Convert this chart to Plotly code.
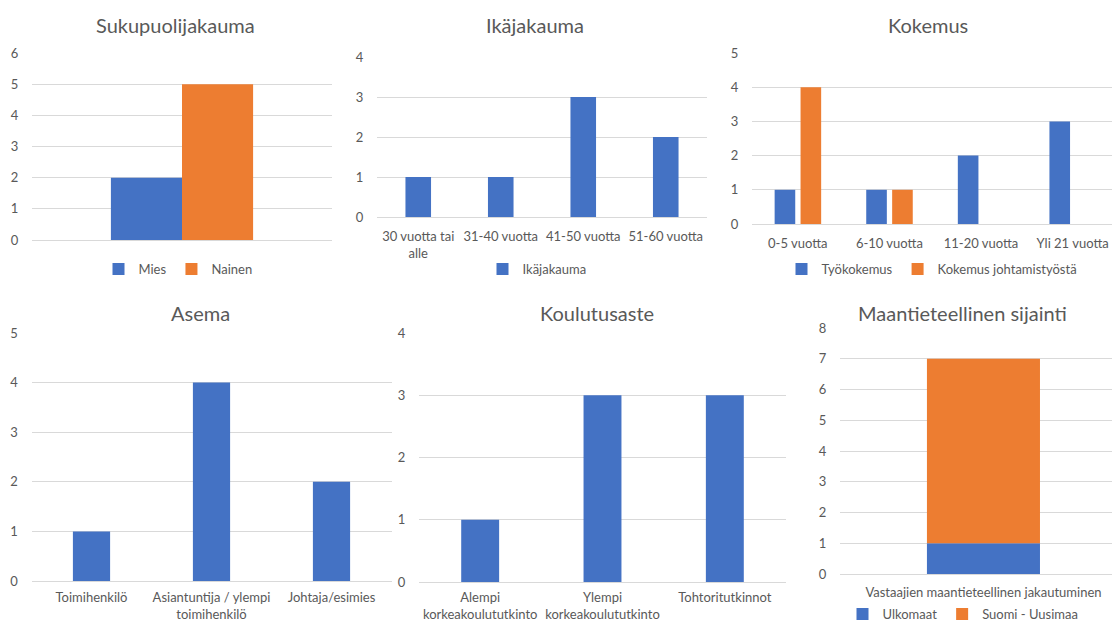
import plotly.graph_objects as go

# ---- data ----
gender_categories = [""]
gender_male = [2]
gender_female = [5]

age_categories = ["30 vuotta tai alle", "31-40 vuotta", "41-50 vuotta", "51-60 vuotta"]
age_tick_labels = ["30 vuotta tai<br>alle", "31-40 vuotta", "41-50 vuotta", "51-60 vuotta"]
age_counts = [1, 1, 3, 2]

experience_categories = ["0-5 vuotta", "6-10 vuotta", "11-20 vuotta", "Yli 21 vuotta"]
work_experience = [1, 1, 2, 3]
management_experience = [4, 1, 0, 0]

position_categories = ["Toimihenkilö", "Asiantuntija / ylempi toimihenkilö", "Johtaja/esimies"]
position_tick_labels = ["Toimihenkilö", "Asiantuntija / ylempi<br>toimihenkilö", "Johtaja/esimies"]
position_counts = [1, 4, 2]

education_categories = ["Alempi korkeakoulututkinto", "Ylempi korkeakoulututkinto", "Tohtoritutkinnot"]
education_tick_labels = ["Alempi<br>korkeakoulututkinto", "Ylempi<br>korkeakoulututkinto", "Tohtoritutkinnot"]
education_counts = [1, 3, 3]

location_categories = ["Vastaajien maantieteellinen jakautuminen"]
location_abroad = [1]
location_uusimaa = [6]

# ---- styling ----
W, H = 1112, 622
BLUE = "#4472C4"
ORANGE = "#ED7D31"
GRID = "#D9D9D9"
TEXT = "#595959"
FONT = "Lato, Carlito, Calibri, sans-serif"
SMALL = 13


def dom_x(left, right):
    return [left / W, right / W]


def dom_y(top, bottom):
    return [1 - bottom / H, 1 - top / H]


fig = go.Figure()

# 1: Sukupuolijakauma (grouped, one category)
fig.add_trace(go.Bar(x=gender_categories, y=gender_male, name="Mies", marker_color=BLUE,
                     width=0.237, offset=-0.237, xaxis="x", yaxis="y", legend="legend"))
fig.add_trace(go.Bar(x=gender_categories, y=gender_female, name="Nainen", marker_color=ORANGE,
                     width=0.237, offset=0.0, xaxis="x", yaxis="y", legend="legend"))

# 2: Ikäjakauma
fig.add_trace(go.Bar(x=age_categories, y=age_counts, name="Ikäjakauma", marker_color=BLUE,
                     width=0.31, offset=-0.155, xaxis="x2", yaxis="y2", legend="legend2"))

# 3: Kokemus (grouped)
fig.add_trace(go.Bar(x=experience_categories, y=work_experience, name="Työkokemus",
                     marker_color=BLUE, width=0.225, offset=-0.253,
                     xaxis="x3", yaxis="y3", legend="legend3"))
fig.add_trace(go.Bar(x=experience_categories, y=management_experience,
                     name="Kokemus johtamistyöstä", marker_color=ORANGE, width=0.225,
                     offset=0.03, xaxis="x3", yaxis="y3", legend="legend3"))

# 4: Asema
fig.add_trace(go.Bar(x=position_categories, y=position_counts, name="Asema", marker_color=BLUE,
                     width=0.31, offset=-0.155, xaxis="x4", yaxis="y4", showlegend=False))

# 5: Koulutusaste
fig.add_trace(go.Bar(x=education_categories, y=education_counts, name="Koulutusaste",
                     marker_color=BLUE, width=0.31, offset=-0.155,
                     xaxis="x5", yaxis="y5", showlegend=False))

# 6: Maantieteellinen sijainti (stacked)
fig.add_trace(go.Bar(x=location_categories, y=location_abroad, name="Ulkomaat",
                     marker_color=BLUE, width=0.394, offset=-0.197,
                     xaxis="x6", yaxis="y6", legend="legend4"))
fig.add_trace(go.Bar(x=location_categories, y=location_uusimaa, base=location_abroad,
                     name="Suomi - Uusimaa", marker_color=ORANGE, width=0.394, offset=-0.197,
                     xaxis="x6", yaxis="y6", legend="legend4"))

fig.update_traces(marker_line_width=0, hoverinfo="x+y")

panels = [
    # (x-left, x-right, y-top, y-bottom, ymax, categories, tick labels, x-range, x ticklen)
    (32, 332, 53, 240, 6, gender_categories, gender_categories, [-0.5, 0.5], 7),
    (377, 707, 57, 217, 4, age_categories, age_tick_labels, [-0.5, 3.5], 7),
    (752, 1112, 53, 224, 5, experience_categories, experience_categories, [-0.5, 3.43], 7),
    (31.5, 391.5, 333, 581, 5, position_categories, position_tick_labels, [-0.5, 2.5], 4),
    (419, 786, 333, 582, 4, education_categories, education_tick_labels, [-0.5, 2.5], 3),
    (840, 1112, 328, 574, 8, location_categories, location_categories, [-0.5, 0.448], 6),
]

layout_axes = {}
for i, (xl, xr, yt, yb, ymax, cats, ticks, xr_range, xtl) in enumerate(panels, start=1):
    sfx = "" if i == 1 else str(i)
    layout_axes["xaxis" + sfx] = dict(
        domain=dom_x(xl, xr), anchor="y" + sfx, type="category",
        categoryorder="array", categoryarray=cats, range=xr_range,
        tickmode="array", tickvals=cats, ticktext=ticks,
        showgrid=False, zeroline=False, showline=False, automargin=False,
        ticks="outside", ticklen=xtl, tickcolor="rgba(0,0,0,0)",
        tickfont=dict(size=SMALL, color=TEXT, family=FONT), tickangle=0,
        fixedrange=True,
    )
    layout_axes["yaxis" + sfx] = dict(
        domain=dom_y(yt, yb), anchor="x" + sfx, range=[0, ymax], dtick=1, tick0=0,
        showgrid=True, gridcolor=GRID, gridwidth=1, automargin=False,
        zeroline=True, zerolinecolor=GRID, zerolinewidth=1, showline=False,
        ticks="outside", ticklen=10, tickcolor="rgba(0,0,0,0)",
        tickfont=dict(size=SMALL, color=TEXT, family=FONT),
        fixedrange=True,
    )

titles = [
    ("Sukupuolijakauma", 175, 25),
    ("Ikäjakauma", 535, 25),
    ("Kokemus", 928, 25),
    ("Asema", 200, 313),
    ("Koulutusaste", 597, 313),
    ("Maantieteellinen sijainti", 962, 313),
]
annotations = [
    dict(text=t, x=x / W, y=1 - y / H, xref="paper", yref="paper",
         xanchor="center", yanchor="middle", showarrow=False,
         font=dict(size=20, color=TEXT, family=FONT))
    for t, x, y in titles
]


def legend_at(cx, cy):
    return dict(orientation="h", x=cx / W, y=1 - cy / H, xanchor="center", yanchor="middle",
                font=dict(size=SMALL, color=TEXT, family=FONT), bgcolor="rgba(0,0,0,0)",
                itemclick=False, itemdoubleclick=False, itemwidth=30, tracegroupgap=0)


fig.update_layout(
    width=W, height=H, autosize=False,
    margin=dict(l=0, r=0, t=0, b=0, pad=0, autoexpand=False),
    paper_bgcolor="white", plot_bgcolor="white",
    barmode="overlay",
    font=dict(family=FONT, color=TEXT, size=SMALL),
    annotations=annotations,
    legend=legend_at(178, 269),
    legend2=legend_at(537, 269),
    legend3=legend_at(932, 269),
    legend4=legend_at(963, 614),
    **layout_axes,
)

fig.write_html("out.html", config={"displayModeBar": False})
